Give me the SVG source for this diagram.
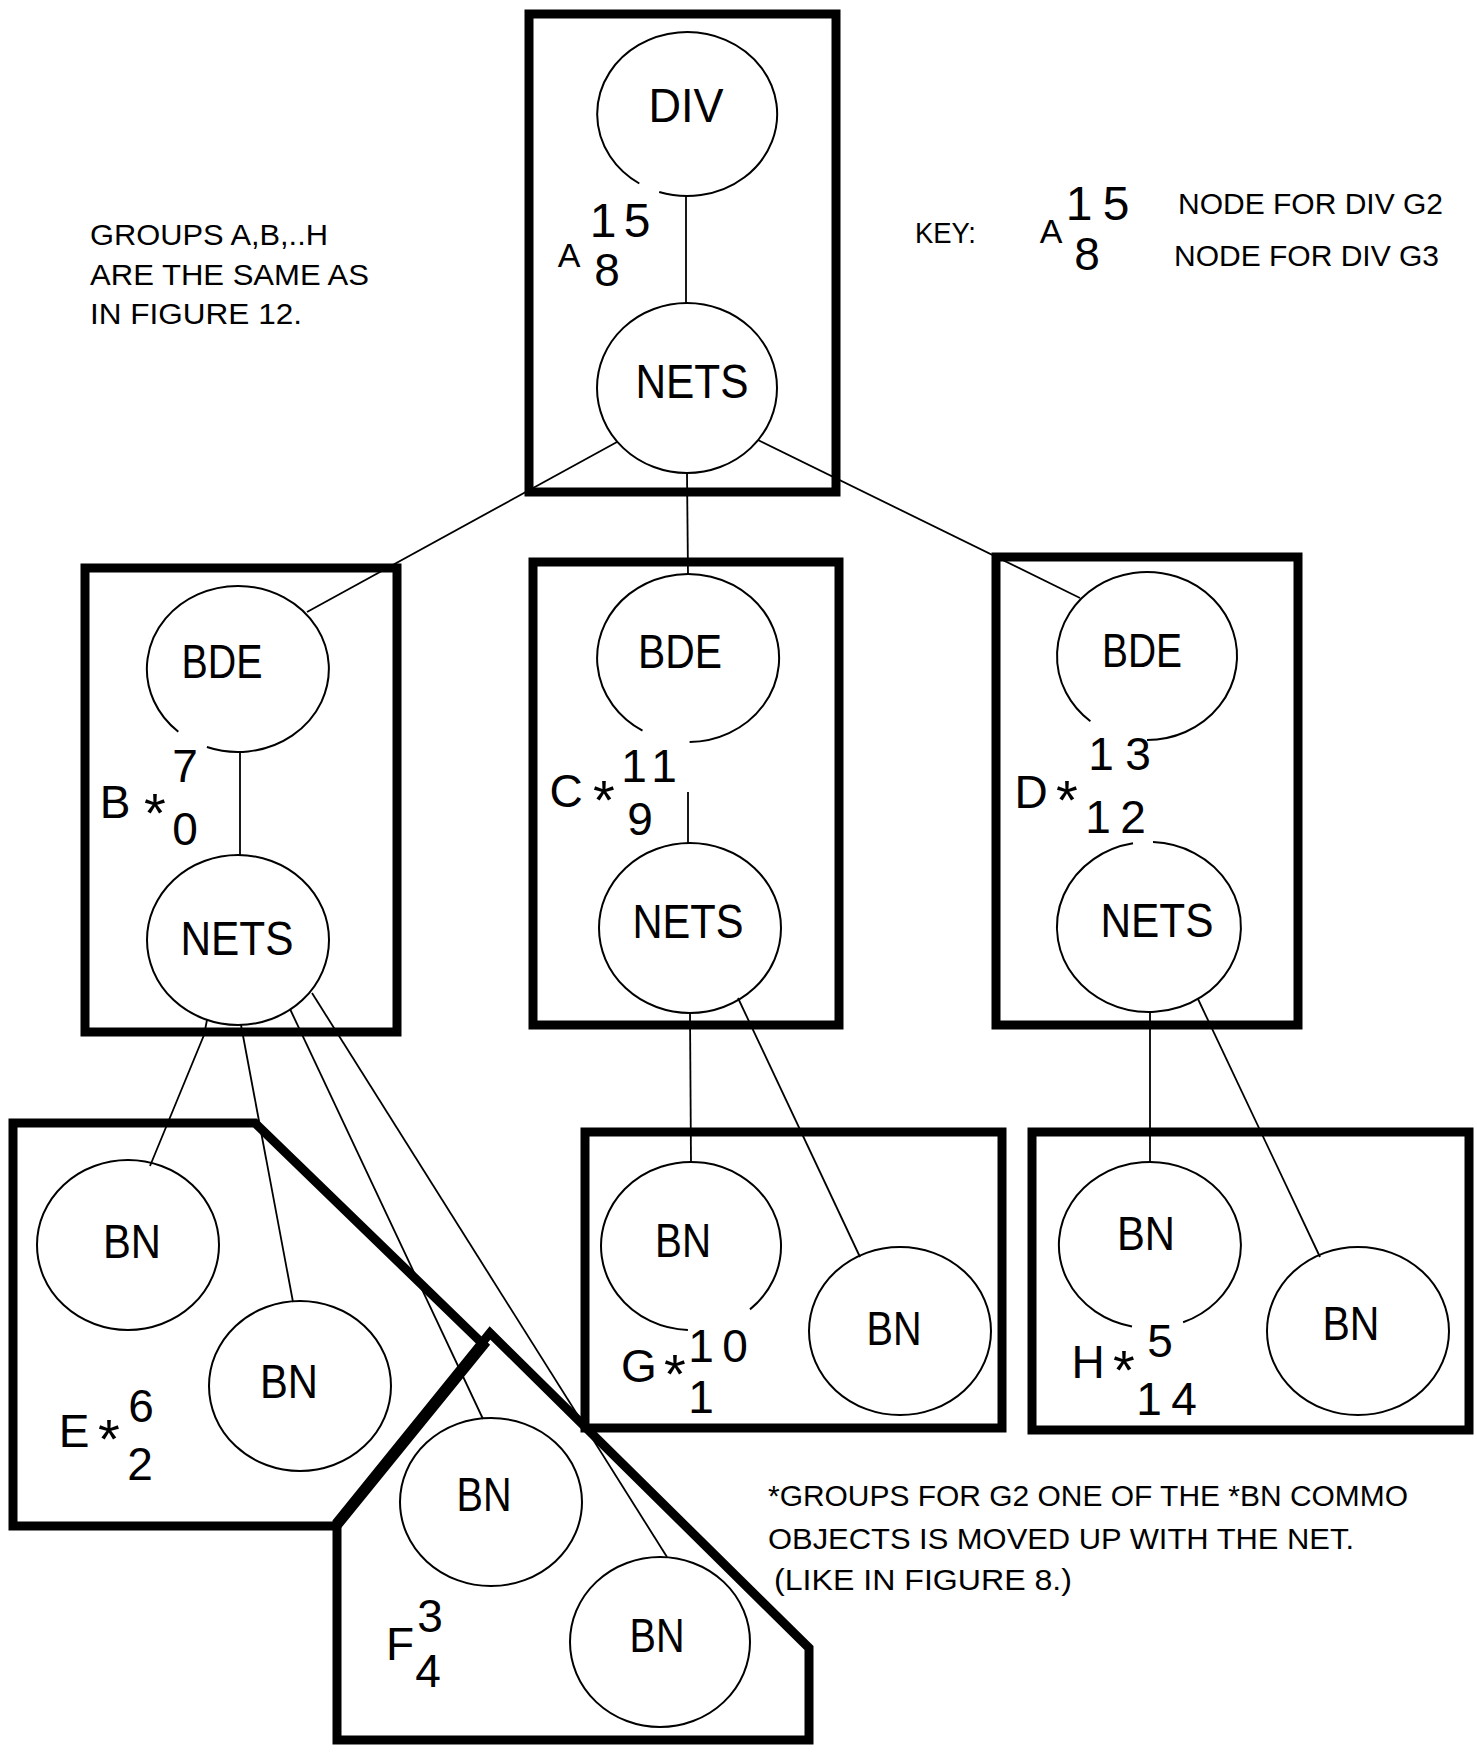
<svg xmlns="http://www.w3.org/2000/svg" width="1477" height="1754" viewBox="0 0 1477 1754">
<style>
.box{fill:none;stroke:#000;stroke-width:9}
.n{fill:none;stroke:#000;stroke-width:2}
.c{fill:none;stroke:#000;stroke-width:1.8}
.t{font-family:"Liberation Sans",Arial,sans-serif;font-size:48px;text-anchor:middle;fill:#000}
.l{font-family:"Liberation Sans",Arial,sans-serif;font-size:46px;text-anchor:middle;fill:#000}
.s{font-family:"Liberation Sans",Arial,sans-serif;font-size:56px;text-anchor:middle;fill:#000}
.p{font-family:"Liberation Sans",Arial,sans-serif;font-size:30px;fill:#000}
</style>
<rect width="1477" height="1754" fill="#fff"/>

<g id="groups">
  <g id="group-A"><rect class="box" x="529" y="14" width="307" height="478"/>
    <text class="l" x="569" y="267" style="font-size:34px">A</text>
    <text class="l" x="603" y="237" style="font-size:48px">1</text><text class="l" x="637" y="237" style="font-size:48px">5</text>
    <text class="l" x="607" y="286">8</text>
  </g>
  <g id="group-B"><rect class="box" x="85" y="568" width="312" height="464"/>
    <text class="l" x="115" y="818">B</text><text class="s" x="155" y="832">*</text>
    <text class="l" x="185" y="782">7</text><text class="l" x="185" y="845">0</text>
  </g>
  <g id="group-C"><rect class="box" x="533" y="562" width="306" height="463"/>
    <text class="l" x="566" y="807">C</text><text class="s" x="604" y="819">*</text>
    <text class="l" x="634" y="782">1</text><text class="l" x="664" y="782">1</text>
    <text class="l" x="640" y="835">9</text>
  </g>
  <g id="group-D"><rect class="box" x="996" y="557" width="302" height="468"/>
    <text class="l" x="1031" y="808">D</text><text class="s" x="1067" y="819">*</text>
    <text class="l" x="1101" y="770">1</text><text class="l" x="1138" y="770">3</text>
    <text class="l" x="1098" y="833">1</text><text class="l" x="1133" y="833">2</text>
  </g>
  <g id="group-E"><path class="box" d="M13,1123 H255 L484,1345 L337,1526 H13 Z"/>
    <text class="l" x="74" y="1447">E</text><text class="s" x="109" y="1458">*</text>
    <text class="l" x="141" y="1422">6</text><text class="l" x="140" y="1480">2</text>
  </g>
  <g id="group-F"><path class="box" d="M490,1333 L809,1648 V1740 H337 V1522 Z"/>
    <text class="l" x="400" y="1660">F</text>
    <text class="l" x="430" y="1632">3</text><text class="l" x="428" y="1687">4</text>
  </g>
  <g id="group-G"><rect class="box" x="585" y="1132" width="417" height="296"/>
    <text class="l" x="639" y="1382">G</text><text class="s" x="675" y="1393">*</text>
    <text class="l" x="701" y="1362">1</text><text class="l" x="735" y="1362">0</text>
    <text class="l" x="701" y="1413">1</text>
  </g>
  <g id="group-H"><rect class="box" x="1032" y="1132" width="437" height="298"/>
    <text class="l" x="1088" y="1378">H</text><text class="s" x="1124" y="1389">*</text>
    <text class="l" x="1160" y="1357">5</text>
    <text class="l" x="1149" y="1415">1</text><text class="l" x="1184" y="1415">4</text>
  </g>
</g>

<g id="connectors">
  <line class="c" x1="686" y1="196" x2="686" y2="303"/>
  <line class="c" x1="617" y1="442" x2="307" y2="612"/>
  <line class="c" x1="687" y1="473" x2="688" y2="574"/>
  <line class="c" x1="758" y1="440" x2="1080" y2="598"/>
  <line class="c" x1="240" y1="752" x2="240" y2="855"/>
  <line class="c" x1="688" y1="792" x2="688" y2="843"/>
  <polyline class="c" points="207,1020 204,1035 150,1166"/>
  <line class="c" x1="241" y1="1025" x2="293" y2="1302"/>
  <line class="c" x1="290" y1="1009" x2="483" y2="1419"/>
  <line class="c" x1="312" y1="993" x2="667" y2="1557"/>
  <line class="c" x1="690" y1="1013" x2="691" y2="1162"/>
  <line class="c" x1="738" y1="998" x2="860" y2="1257"/>
  <line class="c" x1="1150" y1="1012" x2="1150" y2="1162"/>
  <line class="c" x1="1198" y1="999" x2="1320" y2="1257"/>
</g>

<g id="nodes">
  <g id="div"><path class="n" d="M639.3,183.5 A90,82 0 1 1 659.2,192"/><text class="t" x="686" y="122" textLength="75" lengthAdjust="spacingAndGlyphs">DIV</text></g>
  <g id="nets-a"><ellipse class="n" cx="687" cy="388" rx="90" ry="85"/><text class="t" x="692" y="398" textLength="113" lengthAdjust="spacingAndGlyphs">NETS</text></g>
  <g id="bde-b"><path class="n" d="M178.3,731.7 A91,83 0 1 1 206.9,747"/><text class="t" x="222" y="678" textLength="81" lengthAdjust="spacingAndGlyphs">BDE</text></g>
  <g id="nets-b"><ellipse class="n" cx="238" cy="940" rx="91" ry="85"/><text class="t" x="237" y="955" textLength="113" lengthAdjust="spacingAndGlyphs">NETS</text></g>
  <g id="bde-c"><path class="n" d="M642.5,730.7 A91,84 0 1 1 689.6,742"/><text class="t" x="680" y="668" textLength="84" lengthAdjust="spacingAndGlyphs">BDE</text></g>
  <g id="nets-c"><ellipse class="n" cx="690" cy="928" rx="91" ry="85"/><text class="t" x="688" y="938" textLength="111" lengthAdjust="spacingAndGlyphs">NETS</text></g>
  <g id="bde-d"><path class="n" d="M1090.4,721.3 A90,84 0 1 1 1147,740"/><text class="t" x="1142" y="667" textLength="80" lengthAdjust="spacingAndGlyphs">BDE</text></g>
  <g id="nets-d"><path class="n" d="M1153,842.1 A92,85 0 1 1 1133,843.3"/><text class="t" x="1157" y="937" textLength="113" lengthAdjust="spacingAndGlyphs">NETS</text></g>
  <g id="bn-e1"><ellipse class="n" cx="128" cy="1245" rx="91" ry="85"/><text class="t" x="132" y="1258" textLength="58" lengthAdjust="spacingAndGlyphs">BN</text></g>
  <g id="bn-e2"><ellipse class="n" cx="300" cy="1386" rx="91" ry="85"/><text class="t" x="289" y="1398" textLength="58" lengthAdjust="spacingAndGlyphs">BN</text></g>
  <g id="bn-f1"><ellipse class="n" cx="491" cy="1502" rx="91" ry="84"/><text class="t" x="484" y="1511" textLength="55" lengthAdjust="spacingAndGlyphs">BN</text></g>
  <g id="bn-f2"><ellipse class="n" cx="660" cy="1642" rx="90" ry="85"/><text class="t" x="657" y="1652" textLength="55" lengthAdjust="spacingAndGlyphs">BN</text></g>
  <g id="bn-g1"><path class="n" d="M687.9,1329.9 A90,84 0 1 1 750,1309.4"/><text class="t" x="683" y="1257" textLength="56" lengthAdjust="spacingAndGlyphs">BN</text></g>
  <g id="bn-g2"><ellipse class="n" cx="900" cy="1331" rx="91" ry="84"/><text class="t" x="894" y="1345" textLength="55" lengthAdjust="spacingAndGlyphs">BN</text></g>
  <g id="bn-h1"><path class="n" d="M1132,1326.4 A91,83 0 1 1 1183.1,1322.3"/><text class="t" x="1146" y="1250" textLength="58" lengthAdjust="spacingAndGlyphs">BN</text></g>
  <g id="bn-h2"><ellipse class="n" cx="1358" cy="1331" rx="91" ry="84"/><text class="t" x="1351" y="1340" textLength="57" lengthAdjust="spacingAndGlyphs">BN</text></g>
</g>

<g id="notes">
  <text class="p" x="90" y="245" textLength="238" lengthAdjust="spacingAndGlyphs">GROUPS A,B,..H</text>
  <text class="p" x="90" y="285" textLength="279" lengthAdjust="spacingAndGlyphs">ARE THE SAME AS</text>
  <text class="p" x="90" y="324" textLength="212" lengthAdjust="spacingAndGlyphs">IN FIGURE 12.</text>
  <text class="p" x="915" y="243" textLength="61" lengthAdjust="spacingAndGlyphs">KEY:</text>
  <g id="key-symbol">
    <text class="l" x="1051" y="243" style="font-size:34px">A</text>
    <text class="l" x="1079" y="220" style="font-size:48px">1</text><text class="l" x="1116" y="220" style="font-size:48px">5</text>
    <text class="l" x="1087" y="270">8</text>
  </g>
  <text class="p" x="1178" y="214" textLength="265" lengthAdjust="spacingAndGlyphs">NODE FOR DIV G2</text>
  <text class="p" x="1174" y="266" textLength="265" lengthAdjust="spacingAndGlyphs">NODE FOR DIV G3</text>
  <text class="p" x="768" y="1506" textLength="640" lengthAdjust="spacingAndGlyphs">*GROUPS FOR G2 ONE OF THE *BN COMMO</text>
  <text class="p" x="768" y="1549" textLength="586" lengthAdjust="spacingAndGlyphs">OBJECTS IS MOVED UP WITH THE NET.</text>
  <text class="p" x="774" y="1590" textLength="298" lengthAdjust="spacingAndGlyphs">(LIKE IN FIGURE 8.)</text>
</g>
</svg>
